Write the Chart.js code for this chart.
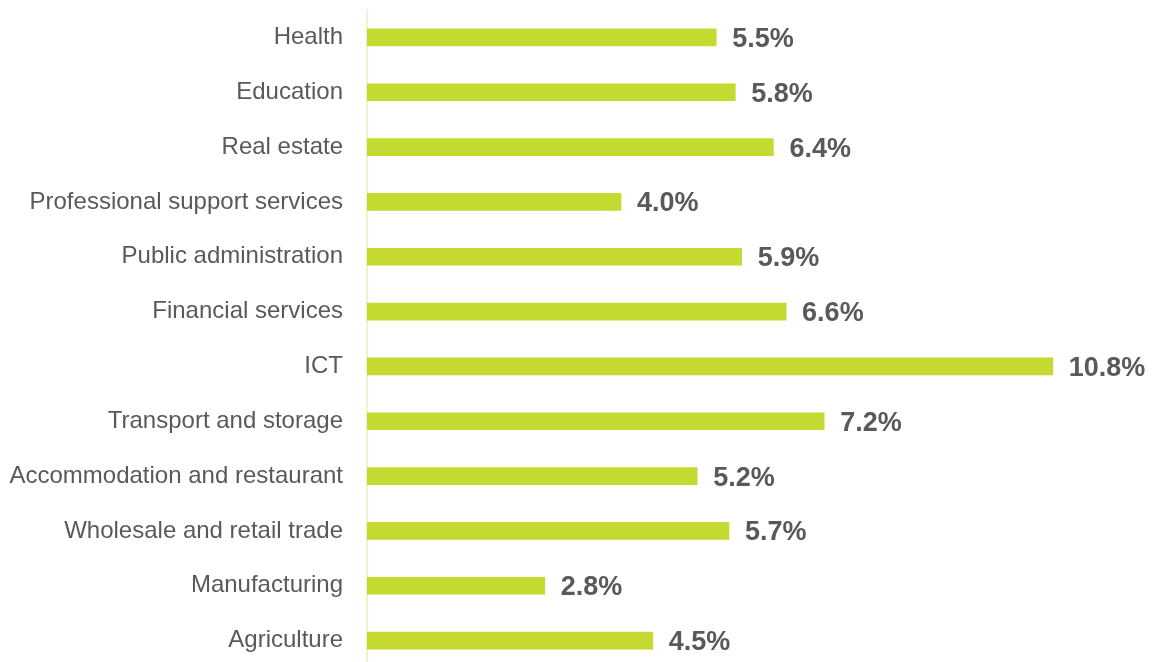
<!DOCTYPE html>
<html>
<head>
<meta charset="utf-8">
<script src="https://cdn.jsdelivr.net/npm/chart.js@4/dist/chart.umd.min.js"></script>
<style>
  html, body { margin: 0; padding: 0; background: #fff; overflow: hidden; }
  #wrap { position: relative; width: 1155px; height: 668px; }
</style>
</head>
<body>
<div id="wrap"><canvas id="chart"></canvas></div>
<script>
const sectors = [
  "Health", "Education", "Real estate", "Professional support services",
  "Public administration", "Financial services", "ICT", "Transport and storage",
  "Accommodation and restaurant", "Wholesale and retail trade", "Manufacturing", "Agriculture"
]
const shares = [5.5, 5.8, 6.4, 4.0, 5.9, 6.6, 10.8, 7.2, 5.2, 5.7, 2.8, 4.5]

// bold percentage next to each bar end
const valueLabels = {
  id: "valueLabels",
  afterDatasetsDraw(chart) {
    const { ctx } = chart
    const meta = chart.getDatasetMeta(0)
    ctx.save()
    ctx.font = "bold 27px 'Liberation Sans', Arial, sans-serif"
    ctx.fillStyle = "#595959"
    ctx.textAlign = "left"
    ctx.textBaseline = "middle"
    meta.data.forEach((bar, i) => {
      ctx.fillText(shares[i].toFixed(1) + "%", bar.x + 16, bar.y + 2)
    })
    ctx.restore()
  }
}

new Chart(document.getElementById("chart"), {
  type: "bar",
  data: {
    labels: sectors,
    datasets: [{
      data: shares,
      backgroundColor: "#c4da30",
      barThickness: 17
    }]
  },
  options: {
    indexAxis: "y",
    responsive: true,
    maintainAspectRatio: false,
    animation: false,
    layout: { padding: { top: 10, right: 26, bottom: 0, left: 0 } },
    plugins: {
      legend: { display: false },
      tooltip: { enabled: false }
    },
    scales: {
      x: {
        display: false,
        min: 0,
        max: 12
      },
      y: {
        afterFit(scale) {
          scale.width = 367
          scale.paddingTop = 0
          scale.paddingBottom = 0
        },
        grid: { display: false, drawTicks: false },
        border: { display: true, color: "#eef3d2", width: 2 },
        ticks: {
          padding: 24,
          color: "#595959",
          font: { family: "'Liberation Sans', Arial, sans-serif", size: 24 }
        }
      }
    }
  },
  plugins: [valueLabels]
})
</script>
</body>
</html>
